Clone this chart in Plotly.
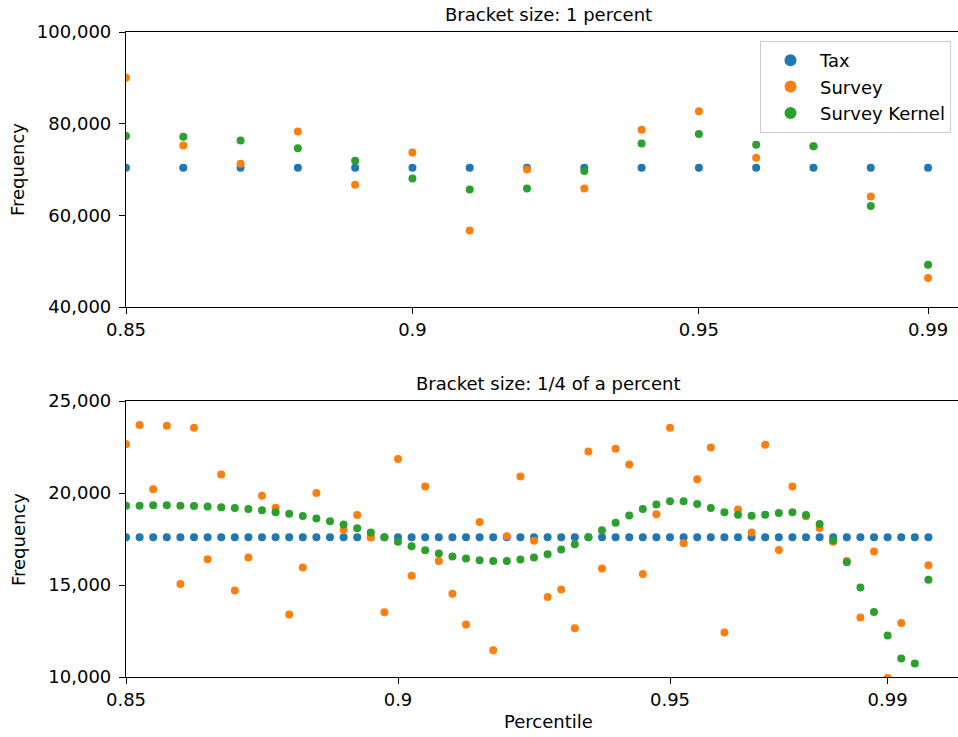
import plotly.graph_objects as go

# ---------------- data ----------------
pct_1 = [round(0.85 + 0.01 * i, 4) for i in range(15)]
tax_1 = [70400] * 15
survey_1 = [90000, 75250, 71250, 78300, 66700, 73700, 56700, 70000,
            65850, 78700, 82700, 72550, 75100, 64100, 46300]
kernel_1 = [77300, 77150, 76350, 74650, 71900, 68050, 65650, 65850,
            69700, 75700, 77750, 75400, 75050, 62050, 49200]

pct_q = [round(0.85 + 0.0025 * i, 5) for i in range(60)]
tax_q = [17600] * 60
survey_q = [22650, 23700, 20200, 23650, 15050, 23550, 16400, 21000,
            14700, 16500, 19850, 19200, 13400, 15950, 20000, 29000,
            18000, 18800, 17580, 13520, 21850, 15500, 20350, 16300,
            14530, 12850, 18420, 11450, 17650, 20900, 17400, 14350,
            14750, 12650, 22250, 15900, 22400, 21550, 15600, 18850,
            23550, 17270, 20750, 22470, 12420, 19100, 17850, 22620,
            16900, 20350, 18730, 18100, 17350, 16300, 13240, 16820,
            9950, 12930, 7300, 16080]
kernel_q = [19310, 19310, 19330, 19330, 19310, 19290, 19260, 19220,
            19180, 19130, 19060, 18950, 18870, 18750, 18620, 18470,
            18290, 18090, 17860, 17600, 17350, 17110, 16890, 16710,
            16550, 16440, 16350, 16310, 16310, 16380, 16490, 16670,
            16930, 17220, 17600, 17980, 18380, 18780, 19130, 19380,
            19550, 19550, 19400, 19180, 18960, 18820, 18760, 18820,
            18910, 18960, 18800, 18310, 17420, 16240, 14870, 13530,
            12250, 11000, 10730, 15290]

series_names = ["Tax", "Survey", "Survey Kernel"]
colors = ["#1f77b4", "#ff7f0e", "#2ca02c"]
tick_vals = [0.85, 0.9, 0.95, 0.99]
tick_text = ["0.85", "0.9", "0.95", "0.99"]
titles = ["Bracket size: 1 percent", "Bracket size: 1/4 of a percent"]
y_label = "Frequency"
x_label = "Percentile"

FONT = "DejaVu Sans"
FS = 18

fig = go.Figure()
for vals, name, col in zip([tax_1, survey_1, kernel_1], series_names, colors):
    fig.add_trace(go.Scatter(x=pct_1, y=vals, mode="markers", name=name,
                             marker=dict(color=col, size=8, line=dict(width=0)),
                             xaxis="x", yaxis="y", cliponaxis=True))
for vals, name, col in zip([tax_q, survey_q, kernel_q], series_names, colors):
    fig.add_trace(go.Scatter(x=pct_q, y=vals, mode="markers", name=name,
                             marker=dict(color=col, size=8, line=dict(width=0)),
                             xaxis="x2", yaxis="y2", cliponaxis=True,
                             showlegend=False))

W, H = 958, 737
ML, MR, MT, MB = 126, 0, 32, 60
PH = H - MT - MB

def py(px):
    return (H - MB - px) / PH

def px_x(px):
    return (px - ML) / (W - ML - MR)

axis_common = dict(showgrid=False, zeroline=False, showline=True,
                   linecolor="black", linewidth=1.2, ticks="outside",
                   ticklen=6, tickwidth=1.2, tickcolor="black",
                   automargin=False,
                   tickfont=dict(family=FONT, size=FS, color="black"))

fig.update_layout(
    width=W, height=H,
    margin=dict(l=ML, r=MR, t=MT, b=MB, autoexpand=False),
    paper_bgcolor="white", plot_bgcolor="white",
    font=dict(family=FONT, size=FS, color="black"),
    xaxis=dict(domain=[0, 1], range=[0.85, 0.99523], anchor="y",
               tickvals=tick_vals, ticktext=tick_text, mirror=True,
               **axis_common),
    yaxis=dict(domain=[py(307), py(32)], range=[40000, 100000], anchor="x",
               tickvals=[40000, 60000, 80000, 100000], tickformat=",",
               ticklabelstandoff=4, **axis_common),
    xaxis2=dict(domain=[0, 1], range=[0.85, 1.00294], anchor="y2",
                tickvals=tick_vals, ticktext=tick_text, mirror=True,
                **axis_common),
    yaxis2=dict(domain=[py(677), py(401)], range=[10000, 25000], anchor="x2",
                tickvals=[10000, 15000, 20000, 25000], tickformat=",",
                ticklabelstandoff=4, **axis_common),
    legend=dict(x=px_x(760), y=py(41), xanchor="left", yanchor="top",
                bgcolor="rgba(255,255,255,0.8)", bordercolor="#cccccc",
                borderwidth=1, font=dict(family=FONT, size=FS),
                itemsizing="constant", itemwidth=49),
    showlegend=True,
)

def label(text, xpx, ypx, angle=0):
    fig.add_annotation(text=text, x=px_x(xpx), y=py(ypx), xref="paper", yref="paper",
                       xanchor="center", yanchor="middle", showarrow=False,
                       textangle=angle,
                       font=dict(family=FONT, size=FS, color="black"))

label(titles[0], 548, 14)
label(titles[1], 548, 383)
label(y_label, 18, 169, -90)
label(y_label, 18, 539, -90)
label(x_label, 548, 722)

# remove the page's default body margin so the figure fills the window exactly
fig.write_html("out.html",
               config={"displayModeBar": False},
               post_script="document.body.style.margin='0';"
                           "document.body.style.overflow='hidden';")
